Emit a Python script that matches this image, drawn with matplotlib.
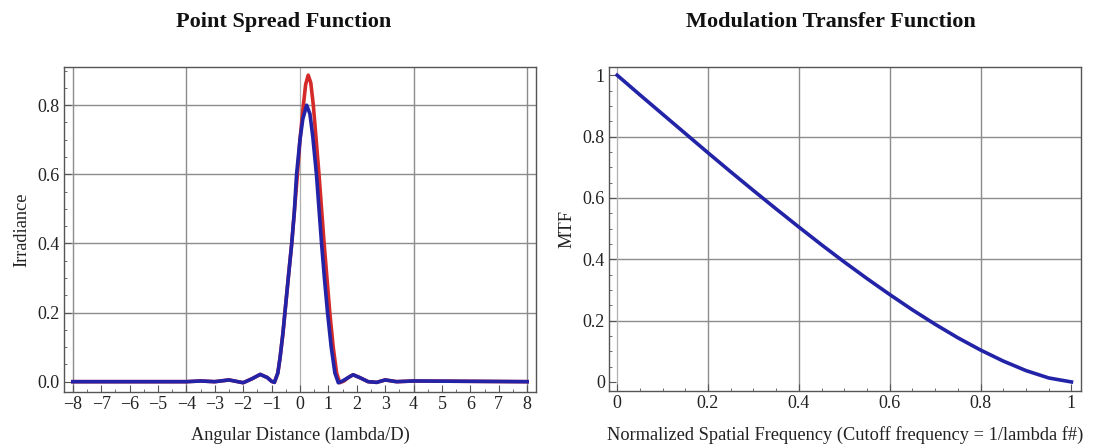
import matplotlib
matplotlib.use("Agg")
import matplotlib.pyplot as plt
from matplotlib.ticker import MultipleLocator

plt.rcParams['font.family'] = ['Liberation Serif', 'DejaVu Serif']

# PSF (angular distance in lambda/D)
psf_x_blue = [-8.0, -4.0, -3.5, -3.0, -2.5, -2.0, -1.7, -1.4, -1.15, -1.0, -0.9, -0.78,
              -0.7, -0.6, -0.53, -0.4, -0.29, -0.2, -0.12, 0.0, 0.1, 0.235, 0.35, 0.45,
              0.58, 0.67, 0.76, 0.86, 0.97, 1.1, 1.23, 1.35, 1.5, 1.7, 1.87, 2.1, 2.4,
              2.7, 3.0, 3.4, 4.0, 8.0]
psf_blue = [0.0, 0.0, 0.002, 0.0, 0.005, -0.003, 0.008, 0.021, 0.012, 0.001, -0.002, 0.025,
            0.07, 0.14, 0.2, 0.31, 0.4, 0.49, 0.6, 0.70, 0.76, 0.80, 0.775, 0.71,
            0.6, 0.5, 0.4, 0.3, 0.2, 0.1, 0.025, -0.003, 0.002, 0.012, 0.02, 0.012, 0.0,
            -0.002, 0.005, 0.0, 0.002, 0.0]

psf_x_red = [-8.0, -4.0, -3.5, -3.0, -2.5, -2.0, -1.7, -1.4, -1.15, -1.0, -0.9, -0.78,
             -0.7, -0.6, -0.53, -0.4, -0.29, -0.2, -0.09, 0.0, 0.12, 0.2, 0.29, 0.38,
             0.47, 0.57, 0.67, 0.76, 0.85, 0.95, 1.05, 1.17, 1.29, 1.4, 1.55, 1.7, 1.87,
             2.1, 2.4, 2.7, 3.0, 3.4, 4.0, 8.0]
psf_red = [0.0, 0.0, 0.002, 0.0, 0.005, -0.003, 0.008, 0.021, 0.012, 0.001, -0.002, 0.025,
           0.07, 0.14, 0.2, 0.31, 0.4, 0.49, 0.6, 0.70, 0.8, 0.86, 0.887, 0.865,
           0.8, 0.7, 0.6, 0.5, 0.4, 0.3, 0.2, 0.1, 0.025, -0.003, 0.002, 0.012, 0.02,
           0.012, 0.0, -0.002, 0.005, 0.0, 0.002, 0.0]

# MTF
mtf_x = [0.0, 0.05, 0.1, 0.15, 0.2, 0.25, 0.3, 0.35, 0.4, 0.45, 0.5,
         0.55, 0.6, 0.65, 0.7, 0.75, 0.8, 0.85, 0.9, 0.95, 1.0]
mtf_y = [1.0, 0.936, 0.873, 0.810, 0.747, 0.685, 0.624, 0.564, 0.505, 0.447, 0.391,
         0.337, 0.285, 0.235, 0.188, 0.144, 0.104, 0.068, 0.037, 0.013, 0.0]

psf_xticks = list(range(-8, 9))
psf_yticks = [0.0, 0.2, 0.4, 0.6, 0.8]
mtf_ticks = [0, 0.2, 0.4, 0.6, 0.8, 1]

blue = '#2323a8'
red = '#d42a2a'
gridc = '#8c8c8c'
framec = '#555555'

fig = plt.figure(figsize=(10.99, 4.45), dpi=100)
ax1 = fig.add_axes([0.0582, 0.119, 0.4295, 0.730])
ax2 = fig.add_axes([0.5541, 0.121, 0.4295, 0.728])


def style(ax):
    for s in ax.spines.values():
        s.set_color(framec)
        s.set_linewidth(1.0)
    ax.tick_params(which='both', direction='in', colors=framec, labelcolor='#222222',
                   labelsize=13, top=False, right=False, pad=3)
    ax.tick_params(which='major', length=5)
    ax.tick_params(which='minor', length=2.5)


# left: PSF
ax1.axvline(0, color='#b0b0b0', lw=0.9, zorder=1)
for gx in [-8, -4, 4, 8]:
    ax1.axvline(gx, color=gridc, lw=1.0, zorder=1)
for gy in [0.2, 0.4, 0.6, 0.8]:
    ax1.axhline(gy, color=gridc, lw=1.0, zorder=1)
ax1.plot(psf_x_red, psf_red, color=red, lw=2.6, zorder=3)
ax1.plot(psf_x_blue, psf_blue, color=blue, lw=2.6, zorder=4)
ax1.set_xlim(-8.31, 8.31)
ax1.set_ylim(-0.03, 0.91)
ax1.set_xticks(psf_xticks)
ax1.set_xticklabels([str(t).replace('-', '\u2212') for t in psf_xticks])
ax1.set_yticks(psf_yticks)
ax1.set_yticklabels(['%.1f' % t for t in psf_yticks])
ax1.xaxis.set_minor_locator(MultipleLocator(0.5))
ax1.yaxis.set_minor_locator(MultipleLocator(0.05))
style(ax1)
ax1.set_xlabel('Angular Distance (lambda/D)', fontsize=13.2, color='#222222', labelpad=10)
ax1.set_ylabel('Irradiance', fontsize=13.2, color='#222222', labelpad=5)

# right: MTF
for g in [0.2, 0.4, 0.6, 0.8]:
    ax2.axvline(g, color=gridc, lw=1.0, zorder=1)
    ax2.axhline(g, color=gridc, lw=1.0, zorder=1)
ax2.axvline(0, color='#b0b0b0', lw=0.9, zorder=1)
ax2.plot(mtf_x, mtf_y, color=blue, lw=2.6, zorder=4)
ax2.set_xlim(-0.018, 1.021)
ax2.set_ylim(-0.03, 1.026)
ax2.set_xticks(mtf_ticks)
ax2.set_xticklabels(['0', '0.2', '0.4', '0.6', '0.8', '1'])
ax2.set_yticks(mtf_ticks)
ax2.set_yticklabels(['0', '0.2', '0.4', '0.6', '0.8', '1'])
ax2.xaxis.set_minor_locator(MultipleLocator(0.05))
ax2.yaxis.set_minor_locator(MultipleLocator(0.05))
style(ax2)
ax2.set_xlabel('Normalized Spatial Frequency (Cutoff frequency = 1/lambda f#)',
               fontsize=13.2, color='#222222', labelpad=10)
ax2.set_ylabel('MTF', fontsize=13.2, color='#222222', labelpad=5)

fig.text(0.258, 0.951, 'Point Spread Function', ha='center', va='center',
         fontsize=16, fontweight='bold', color='#111111')
fig.text(0.756, 0.951, 'Modulation Transfer Function', ha='center', va='center',
         fontsize=16, fontweight='bold', color='#111111')

fig.savefig('out.png', dpi=100)
